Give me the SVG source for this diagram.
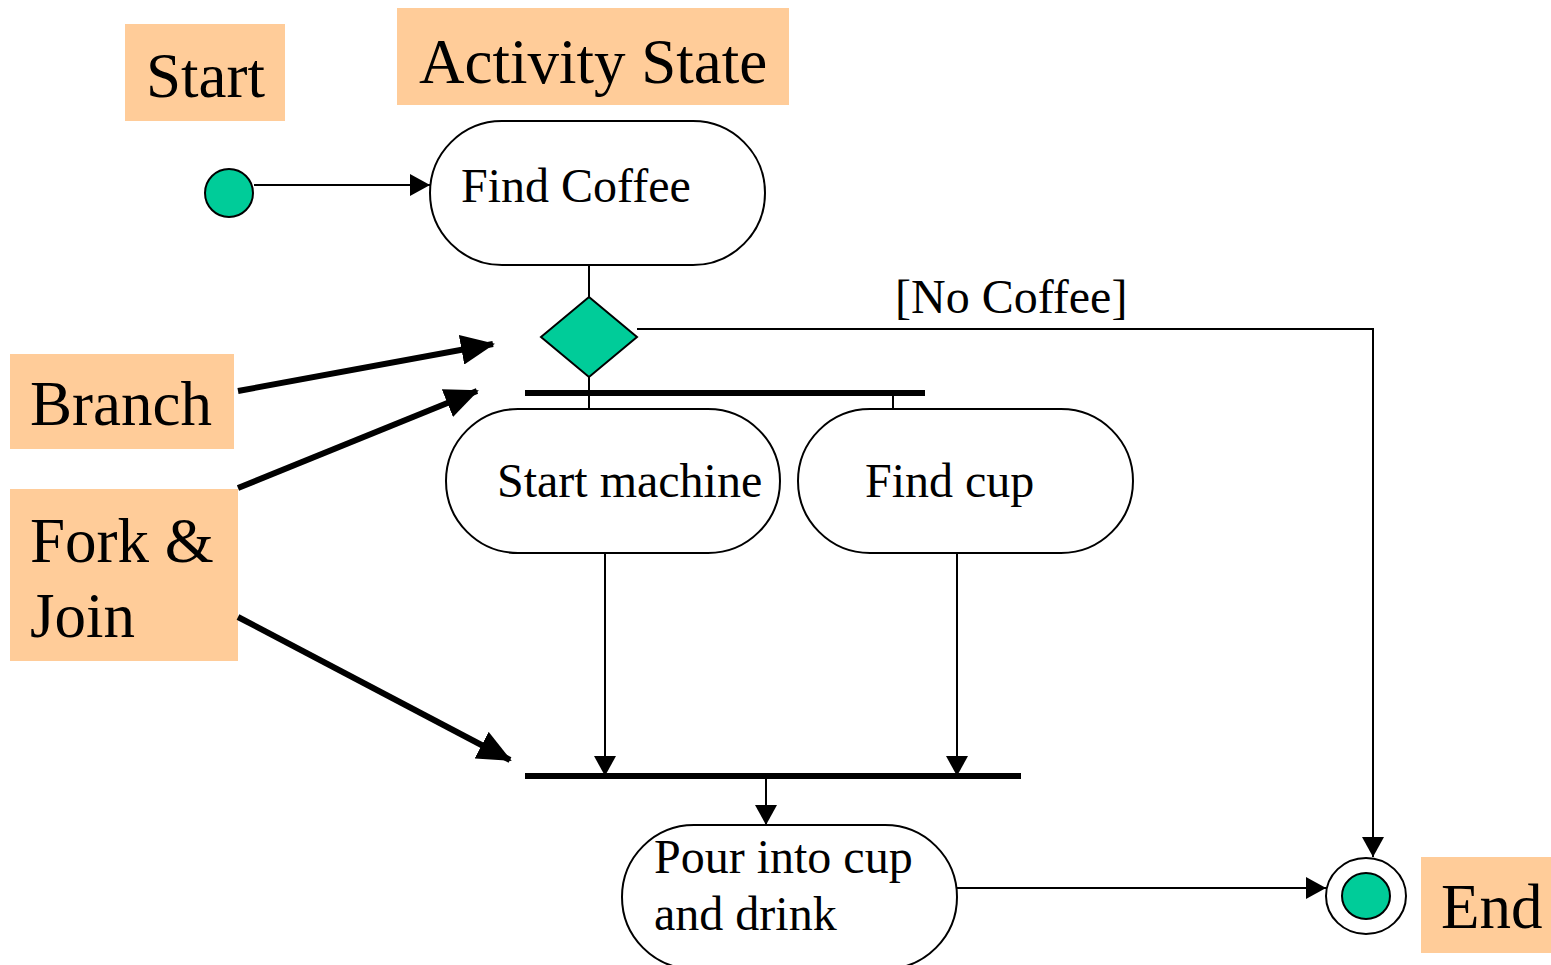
<svg xmlns="http://www.w3.org/2000/svg" width="1551" height="965" viewBox="0 0 1551 965">
  <style>
    .lbl { fill: #FFCC99; }
    .lbltxt { font-family: "Liberation Serif", "Times New Roman", serif; font-size: 63px; fill: #000; }
    .txt { font-family: "Liberation Serif", "Times New Roman", serif; font-size: 48px; fill: #000; }
    .act { fill: #fff; stroke: #000; stroke-width: 2; }
    .green { fill: #00CC99; stroke: #000; stroke-width: 2; }
    .flow { fill: none; stroke: #000; stroke-width: 2; }
    .bar { fill: none; stroke: #000; stroke-width: 6; }
    .pointer { fill: none; stroke: #000; stroke-width: 6; }
  </style>
  <defs>
    <marker id="tri-v" markerWidth="20" markerHeight="22" refX="20" refY="11" orient="auto" markerUnits="userSpaceOnUse">
      <path d="M0,0 L20,11 L0,22 Z" fill="#000"/>
    </marker>
    <marker id="big" markerWidth="34" markerHeight="30" refX="32" refY="15" orient="auto" markerUnits="userSpaceOnUse">
      <path d="M0,0 L34,15 L0,30 Z" fill="#000"/>
    </marker>
  </defs>

  <rect width="1551" height="965" fill="#fff"/>

  <!-- annotation labels -->
  <g id="label-start">
    <rect class="lbl" x="125" y="24" width="160" height="97"/>
    <text class="lbltxt" x="146" y="97">Start</text>
  </g>
  <g id="label-activity">
    <rect class="lbl" x="397" y="8" width="392" height="97"/>
    <text class="lbltxt" x="419" y="83">Activity State</text>
  </g>
  <g id="label-branch">
    <rect class="lbl" x="10" y="354" width="224" height="95"/>
    <text class="lbltxt" x="30" y="425">Branch</text>
  </g>
  <g id="label-forkjoin">
    <rect class="lbl" x="10" y="489" width="228" height="172"/>
    <text class="lbltxt" x="30" y="562">Fork &amp;</text>
    <text class="lbltxt" x="30" y="637">Join</text>
  </g>
  <g id="label-end">
    <rect class="lbl" x="1421" y="857" width="130" height="96"/>
    <text class="lbltxt" x="1441" y="928">End</text>
  </g>

  <!-- connectors -->
  <g id="connectors">
    <line class="flow" x1="254" y1="185" x2="430" y2="185" marker-end="url(#tri-v)"/>
    <line class="flow" x1="589" y1="265" x2="589" y2="297"/>
    <polyline class="flow" points="637,329 1373,329 1373,857" marker-end="url(#tri-v)"/>
    <line class="flow" x1="589" y1="377" x2="589" y2="409"/>
    <line class="flow" x1="893" y1="393" x2="893" y2="409"/>
    <line class="flow" x1="605" y1="553" x2="605" y2="776" marker-end="url(#tri-v)"/>
    <line class="flow" x1="957" y1="553" x2="957" y2="776" marker-end="url(#tri-v)"/>
    <line class="flow" x1="766" y1="776" x2="766" y2="825" marker-end="url(#tri-v)"/>
    <line class="flow" x1="957" y1="888" x2="1326" y2="888" marker-end="url(#tri-v)"/>
    <line class="bar" x1="525" y1="393" x2="925" y2="393"/>
    <line class="bar" x1="525" y1="776" x2="1021" y2="776"/>
    <text class="txt" x="895" y="313">[No Coffee]</text>
    <!-- annotation pointers -->
    <line class="pointer" x1="238" y1="391" x2="493" y2="344" marker-end="url(#big)"/>
    <line class="pointer" x1="238" y1="488" x2="477" y2="391" marker-end="url(#big)"/>
    <line class="pointer" x1="238" y1="617" x2="510" y2="760" marker-end="url(#big)"/>
  </g>

  <!-- nodes -->
  <g id="start">
    <circle class="green" cx="229" cy="193" r="24"/>
  </g>
  <g id="find-coffee">
    <rect class="act" x="430" y="121" width="335" height="144" rx="72" ry="72"/>
    <text class="txt" x="461" y="202">Find Coffee</text>
  </g>
  <g id="branch">
    <polygon class="green" points="589,297 637,337 589,377 541,337"/>
  </g>
  <g id="start-machine">
    <rect class="act" x="446" y="409" width="334" height="144" rx="72" ry="72"/>
    <text class="txt" x="497" y="497">Start machine</text>
  </g>
  <g id="find-cup">
    <rect class="act" x="798" y="409" width="335" height="144" rx="72" ry="72"/>
    <text class="txt" x="865" y="497">Find cup</text>
  </g>
  <g id="pour">
    <rect class="act" x="622" y="825" width="335" height="144" rx="72" ry="72"/>
    <text class="txt" x="654" y="873">Pour into cup</text>
    <text class="txt" x="654" y="930">and drink</text>
  </g>
  <g id="end">
    <ellipse cx="1366" cy="896" rx="40" ry="38" fill="#fff" stroke="#000" stroke-width="2"/>
    <ellipse class="green" cx="1366" cy="896" rx="24" ry="23"/>
  </g>
</svg>
